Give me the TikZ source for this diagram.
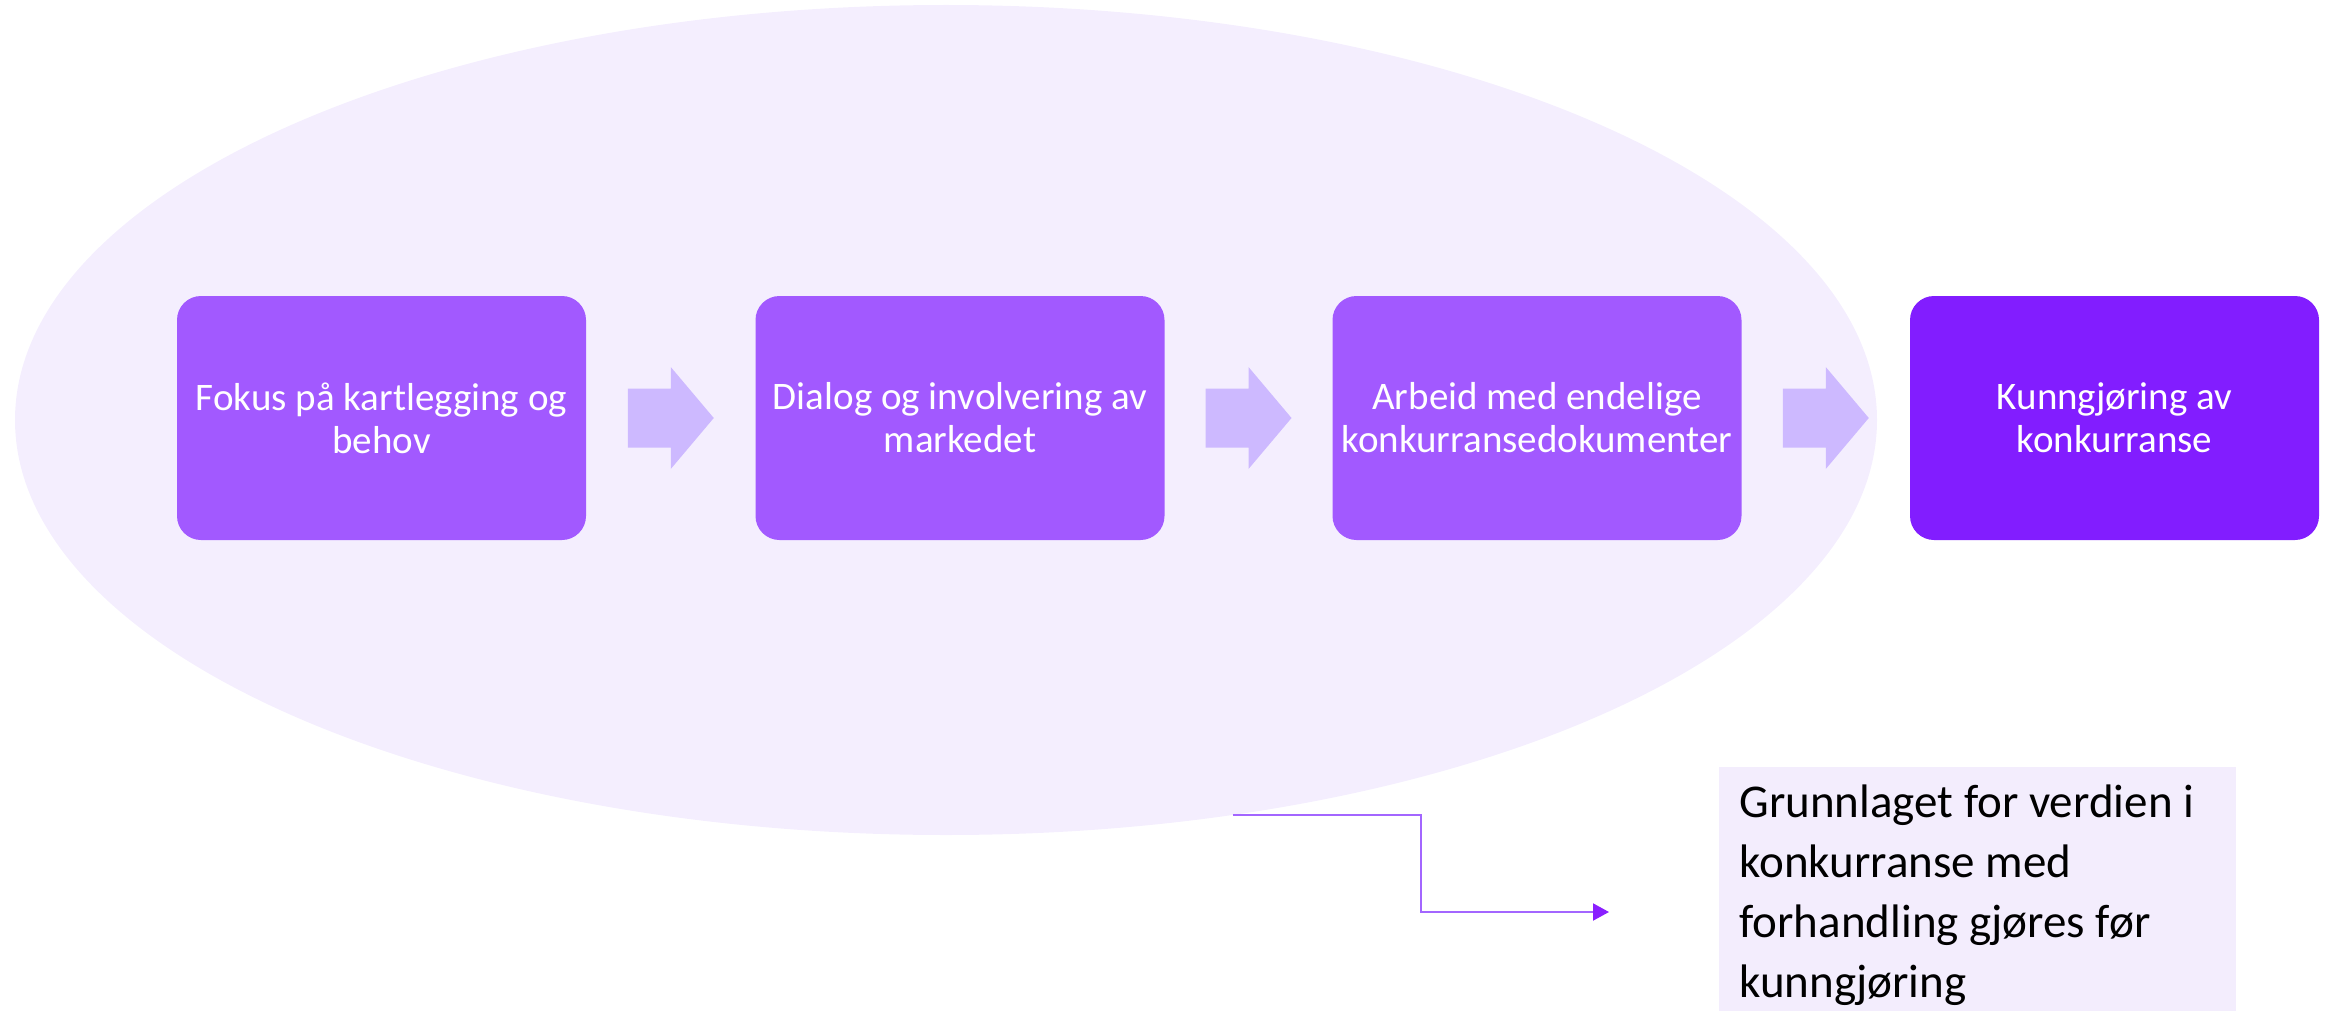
\documentclass[tikz,border=0pt]{standalone}
\usepackage{fontspec}
\setmainfont{Carlito}
\usetikzlibrary{shapes.geometric,arrows.meta,calc}

\definecolor{haze}{HTML}{F4EEFE}
\definecolor{stepfill}{HTML}{A259FF}
\definecolor{finalfill}{HTML}{821DFF}
\definecolor{flowfill}{HTML}{CDB9FF}
\definecolor{notefill}{HTML}{F3EDFD}
\definecolor{linkline}{HTML}{A366FF}
\definecolor{linktip}{HTML}{8A1FFF}

\tikzset{
  phase/.style={ellipse, fill=haze, inner sep=0pt, outer sep=0pt,
    minimum width=931pt, minimum height=415pt},
  stepbox/.style={rectangle, rounded corners=12pt, fill=stepfill, text=white,
    minimum width=204.5pt, minimum height=122pt, inner sep=0pt, align=center,
    font=\fontsize{19.5pt}{21.5pt}\selectfont},
  finalbox/.style={stepbox, fill=finalfill},
  notebox/.style={rectangle, fill=notefill, anchor=north west, inner xsep=10pt,
    inner ysep=0pt, minimum width=258.5pt, minimum height=128pt,
    text width=238.5pt, align=flush left, font=\fontsize{23.5pt}{30pt}\selectfont},
  flowarrow/.style={fill=flowfill},
  link/.style={draw=linkline, line width=1pt,
    -{Triangle[length=8pt, width=8.5pt, color=linktip]}}
}

% block arrow centred between two steps
\newcommand{\flowbetween}[2]{%
  \fill[flowarrow] ($(#1.east)!0.5!(#2.west)$)
    ++(-43,-29.5) -- ++(43,0) -- ++(0,-21.5) -- ++(43,51)
    -- ++(-43,51) -- ++(0,-21.5) -- ++(-43,0) -- cycle;}

\begin{document}
\begin{tikzpicture}[x=0.5pt, y=-0.5pt]
  \useasboundingbox (0,0) rectangle (2334,1011);

  % preparation phase
  \node[phase] (scope) at (946,420) {};

  % process steps
  \node[stepbox] (s1) at (381.5,418) {Fokus på kartlegging og\\behov};
  \node[stepbox] (s2) at (960,418) {Dialog og involvering av\\markedet};
  \node[stepbox] (s3) at (1537,418) {Arbeid med endelige\\konkurransedokumenter};
  \node[finalbox] (s4) at (2114.5,418) {Kunngjøring av\\konkurranse};

  \flowbetween{s1}{s2}
  \flowbetween{s2}{s3}
  \flowbetween{s3}{s4}

  % explanatory note
  \node[notebox] (note) at (1719,767)
    {Grunnlaget for verdien i\\konkurranse med\\forhandling gjøres før\\kunngjøring};

  % link from the phase to the note
  \coordinate (tip) at (1609,912);
  \draw[link] (scope.-54.6) -| ($(scope.-54.6)!0.5!(tip)$) |- (tip);
\end{tikzpicture}
\end{document}
